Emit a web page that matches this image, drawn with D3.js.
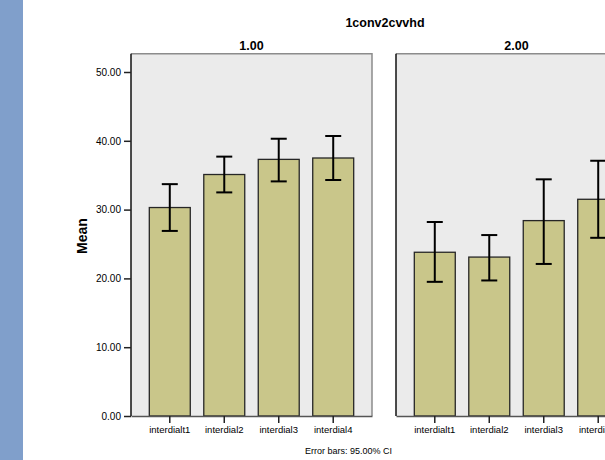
<!DOCTYPE html>
<html>
<head>
<meta charset="utf-8">
<script src="https://cdn.jsdelivr.net/npm/d3@7"></script>
<style>
  html, body { margin: 0; padding: 0; background: #fff; }
  svg { display: block; font-family: "Liberation Sans", Arial, sans-serif; }
</style>
</head>
<body>
<svg id="chart" width="605" height="460"></svg>
<script>
// Measures on the x axis
const categories = ["interdialt1", "interdial2", "interdial3", "interdial4"];
// Panel (group) labels
const groups = ["1.00", "2.00"];
// Mean per measure, one array per group
const meansGroup1 = [30.3, 35.1, 37.3, 37.5];
const meansGroup2 = [23.8, 23.1, 28.4, 31.5];
// 95% CI bounds
const ciLowGroup1 = [26.9, 32.5, 34.1, 34.3];
const ciHighGroup1 = [33.7, 37.7, 40.3, 40.7];
const ciLowGroup2 = [19.5, 19.7, 22.1, 25.9];
const ciHighGroup2 = [28.2, 26.3, 34.4, 37.1];
// Y tick values
const yTicks = [0, 10, 20, 30, 40, 50];

const panels = [
  { label: groups[0], means: meansGroup1, lo: ciLowGroup1, hi: ciHighGroup1, x0: 131, x1: 372, axis: true },
  { label: groups[1], means: meansGroup2, lo: ciLowGroup2, hi: ciHighGroup2, x0: 396, x1: 637, axis: false }
];

const svg = d3.select("#chart");

// Left decorative strip
svg.append("rect").attr("x", 0).attr("y", 0).attr("width", 23).attr("height", 460).attr("fill", "#809fcb");

const y = d3.scaleLinear().domain([0, 50]).range([416, 72]);
const yTop = y(52.65);

// Chart title
svg.append("text").attr("x", 385).attr("y", 27).attr("text-anchor", "middle")
  .attr("font-size", 12.5).attr("font-weight", "bold").attr("fill", "#000").text("1conv2cvvhd");

// Y axis title
svg.append("text").attr("transform", "translate(87,236) rotate(-90)").attr("text-anchor", "middle")
  .attr("font-size", 14).attr("font-weight", "bold").attr("fill", "#000").text("Mean");

panels.forEach(p => {
  const g = svg.append("g");
  const x = d3.scaleBand().domain(categories).range([p.x0, p.x1]).paddingInner(0.248).paddingOuter(0.336);

  // Panel background
  g.append("rect").attr("x", p.x0).attr("y", yTop).attr("width", p.x1 - p.x0).attr("height", y(0) - yTop)
    .attr("fill", "#ebebeb");
  // Top and right frame
  g.append("path").attr("d", `M${p.x0},${yTop}H${p.x1}V${y(0)}`).attr("fill", "none")
    .attr("stroke", "#8c8c8c").attr("stroke-width", 1.5);

  // Panel label
  g.append("text").attr("x", (p.x0 + p.x1) / 2).attr("y", 50).attr("text-anchor", "middle")
    .attr("font-size", 12.5).attr("font-weight", "bold").attr("fill", "#000").text(p.label);

  // Bars
  g.selectAll("rect.bar").data(categories).join("rect").attr("class", "bar")
    .attr("x", d => x(d)).attr("width", x.bandwidth())
    .attr("y", (d, i) => y(p.means[i])).attr("height", (d, i) => y(0) - y(p.means[i]))
    .attr("fill", "#c9c68a").attr("stroke", "#262626").attr("stroke-width", 1.3);

  // Error bars
  const cap = 8;
  const eb = g.selectAll("g.err").data(categories).join("g").attr("class", "err")
    .attr("stroke", "#000").attr("stroke-width", 2).attr("fill", "none");
  eb.append("line").attr("x1", d => x(d) + x.bandwidth() / 2).attr("x2", d => x(d) + x.bandwidth() / 2)
    .attr("y1", (d, i) => y(p.lo[i])).attr("y2", (d, i) => y(p.hi[i]));
  eb.append("line").attr("x1", d => x(d) + x.bandwidth() / 2 - cap).attr("x2", d => x(d) + x.bandwidth() / 2 + cap)
    .attr("y1", (d, i) => y(p.hi[i])).attr("y2", (d, i) => y(p.hi[i]));
  eb.append("line").attr("x1", d => x(d) + x.bandwidth() / 2 - cap).attr("x2", d => x(d) + x.bandwidth() / 2 + cap)
    .attr("y1", (d, i) => y(p.lo[i])).attr("y2", (d, i) => y(p.lo[i]));

  // X axis
  const xa = g.append("g").attr("transform", `translate(0,${y(0)})`)
    .call(d3.axisBottom(x).tickSize(7).tickSizeOuter(0).tickPadding(3));
  xa.select(".domain").attr("stroke", "#555").attr("stroke-width", 1.5);
  xa.selectAll(".tick line").attr("stroke", "#222").attr("stroke-width", 1.5);
  xa.selectAll(".tick text").attr("font-size", 9.5).attr("fill", "#000")
    .attr("font-family", "'Liberation Sans', Arial, sans-serif");

  // Left edge / Y axis
  g.append("line").attr("x1", p.x0).attr("x2", p.x0).attr("y1", yTop).attr("y2", y(0))
    .attr("stroke", "#111").attr("stroke-width", 1.5);
  if (p.axis) {
    const ya = g.append("g").attr("transform", `translate(${p.x0},0)`)
      .call(d3.axisLeft(y).tickValues(yTicks).tickFormat(d3.format(".2f")).tickSize(7).tickPadding(3));
    ya.select(".domain").remove();
    ya.selectAll(".tick line").attr("stroke", "#222").attr("stroke-width", 1.5);
    ya.selectAll(".tick text").attr("font-size", 10).attr("fill", "#000")
      .attr("font-family", "'Liberation Sans', Arial, sans-serif");
  }
});

// Footnote
svg.append("text").attr("x", 305).attr("y", 454).attr("font-size", 9).attr("fill", "#000")
  .text("Error bars: 95.00% CI");
</script>
</body>
</html>
